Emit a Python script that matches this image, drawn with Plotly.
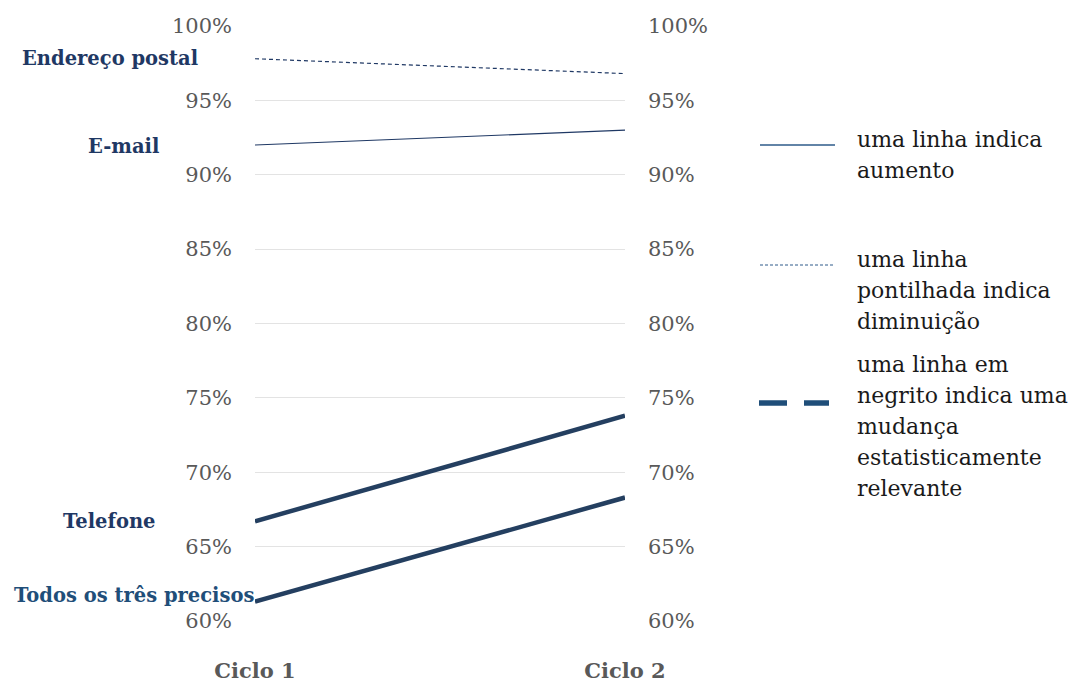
import plotly.graph_objects as go

ciclos = ["Ciclo 1", "Ciclo 2"]
series_names = ["Endereço postal", "E-mail", "Telefone", "Todos os três precisos"]
endereco = [97.8, 96.8]
email = [92.0, 93.0]
telefone = [66.7, 73.8]
todos = [61.3, 68.3]
tick_vals = [60, 65, 70, 75, 80, 85, 90, 95, 100]
tick_text = ["60%", "65%", "70%", "75%", "80%", "85%", "90%", "95%", "100%"]
legend_texts = [["uma linha indica", "aumento"],
                ["uma linha", "pontilhada indica", "diminuição"],
                ["uma linha em", "negrito indica uma", "mudança",
                 "estatisticamente", "relevante"]]

W, H = 1071, 682
SERIF = "DejaVu Serif"
xpos = [0, 1]

fig = go.Figure()
styles = [
    (endereco, dict(color="#1F3864", width=1.2, dash="4px,3px")),
    (email, dict(color="#1F3864", width=1.2)),
    (telefone, dict(color="#243F60", width=4.5)),
    (todos, dict(color="#243F60", width=4.5)),
]
for vals, ln in styles:
    fig.add_trace(go.Scatter(x=xpos, y=vals, mode="lines", line=ln,
                             showlegend=False, hoverinfo="skip"))
fig.add_trace(go.Scatter(x=xpos, y=[60, 100], yaxis="y2", mode="lines",
                         line=dict(width=0), showlegend=False, hoverinfo="skip"))

label_cfg = [  # (series values, xshift, yshift, color)
    (endereco, -55, 0, "#1F3864"),
    (email, -94, -2, "#1F3864"),
    (telefone, -98, 0, "#1F3864"),
    (todos, 1, 6, "#1F4E79"),
]
for name, (vals, xs, ys, col) in zip(series_names, label_cfg):
    fig.add_annotation(x=0, y=vals[0], xref="x", yref="y", text="<b>%s</b>" % name,
                       showarrow=False, xanchor="right", yanchor="middle",
                       xshift=xs, yshift=ys,
                       font=dict(family=SERIF, size=19.5, color=col))

fig.add_shape(type="line", xref="paper", yref="paper",
              x0=760 / W, x1=835 / W, y0=1 - 145 / H, y1=1 - 145 / H,
              line=dict(color="#2E5B8A", width=1.3))
fig.add_shape(type="line", xref="paper", yref="paper",
              x0=760 / W, x1=835 / W, y0=1 - 265 / H, y1=1 - 265 / H,
              line=dict(color="#2E5B8A", width=1, dash="3px,2px"))
for a, b in [(759, 787), (804, 829)]:
    fig.add_shape(type="line", xref="paper", yref="paper",
                  x0=a / W, x1=b / W, y0=1 - 403 / H, y1=1 - 403 / H,
                  line=dict(color="#1F4E79", width=5.5))
for lines, ystart in zip(legend_texts, [139, 259, 364]):
    for i, ln in enumerate(lines):
        fig.add_annotation(x=855 / W, y=1 - (ystart + 31 * i) / H, xref="paper",
                           yref="paper", text=ln, showarrow=False, xanchor="left",
                           yanchor="middle", align="left",
                           font=dict(family=SERIF, size=22, color="#1a1a1a"))

ydom = [(H - 621) / H, (H - 26) / H]
fig.update_layout(
    width=W, height=H, margin=dict(l=0, r=0, t=0, b=0),
    paper_bgcolor="white", plot_bgcolor="white",
    xaxis=dict(domain=[255 / W, 625 / W], range=[0, 1], tickvals=xpos,
               ticktext=["<b>%s</b>" % c for c in ciclos], showgrid=False,
               zeroline=False, ticks="", ticklabelstandoff=35, automargin=False,
               tickfont=dict(family=SERIF, size=21, color="#595959")),
    yaxis=dict(domain=ydom, range=[60, 100], tickvals=tick_vals, ticktext=tick_text,
               showgrid=True, gridcolor="#E3E3E3", gridwidth=1.3, zeroline=False,
               ticks="", ticklabelstandoff=22, automargin=False,
               tickfont=dict(family=SERIF, size=21, color="#595959")),
    yaxis2=dict(overlaying="y", side="right", range=[60, 100], tickvals=tick_vals,
                ticktext=tick_text, showgrid=False, zeroline=False, ticks="",
                ticklabelstandoff=22, automargin=False,
                tickfont=dict(family=SERIF, size=21, color="#595959")),
)
fig.write_html("out.html")
